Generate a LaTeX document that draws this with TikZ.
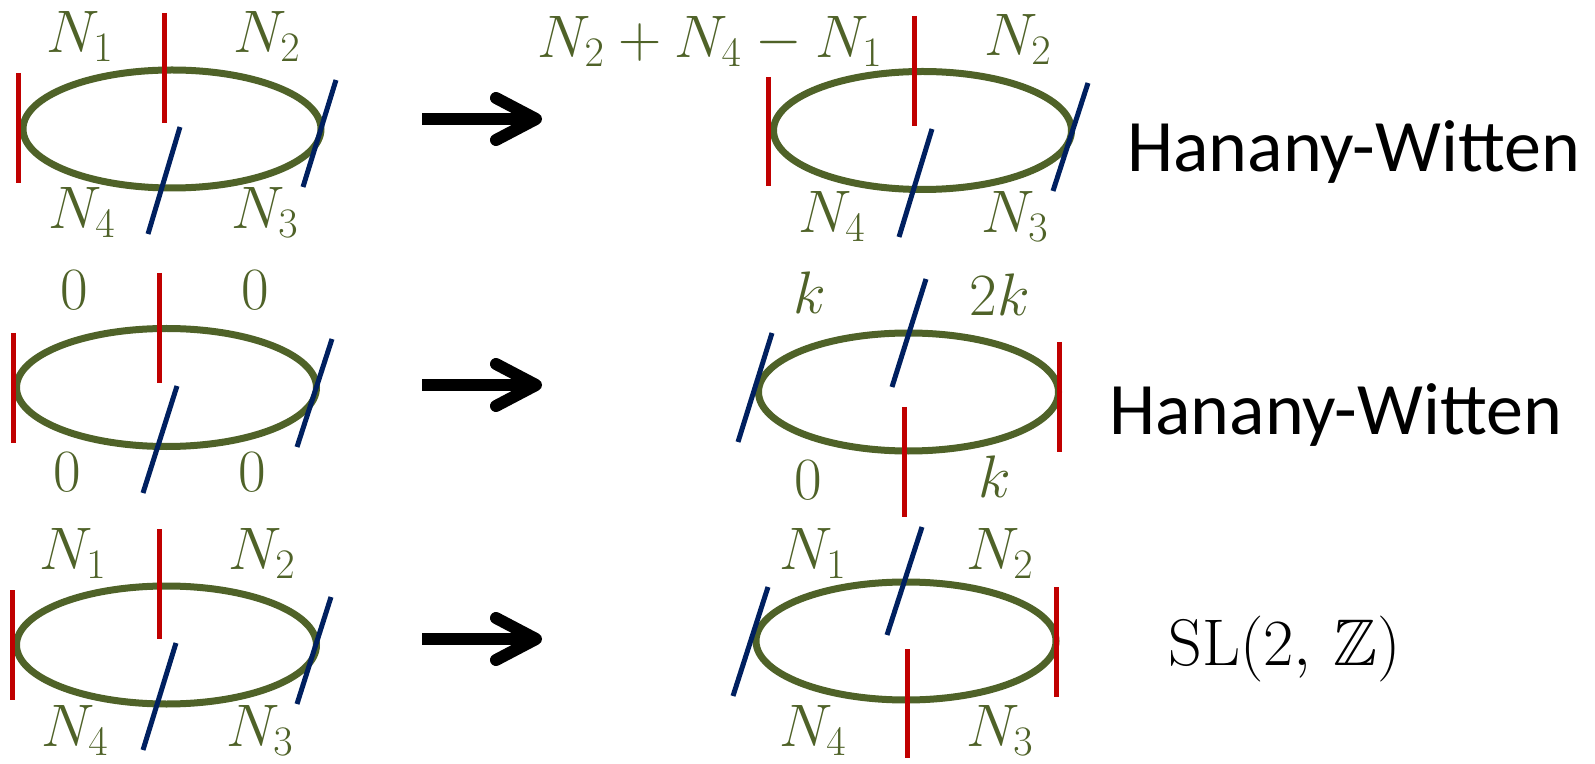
\RequirePackage{fix-cm}
\documentclass[tikz,border=0pt]{standalone}
\usepackage{amsmath,amssymb}
\usepackage{fontspec}
\newfontfamily\hwfont{Carlito}
\usetikzlibrary{arrows.meta,positioning}
\definecolor{RingGreen}{HTML}{4F6228}
\definecolor{BraneRed}{HTML}{C00000}
\definecolor{BraneBlue}{HTML}{002060}

\begin{document}
\begin{tikzpicture}[
  x=0.5pt, y=-0.5pt,
  ring/.style={draw=RingGreen, line width=3.5pt},
  redbrane/.style={draw=BraneRed, line width=2.5pt},
  bluebrane/.style={draw=BraneBlue, line width=2.5pt},
  lbl/.style={text=RingGreen, inner sep=0pt, font=\fontsize{30}{36}\selectfont},
  move/.style={line width=6pt, -{Straight Barb[length=20pt, width=21pt, round]}},
  rulename/.style={inner sep=0pt, anchor=base west, font=\hwfont\fontsize{37}{44}\selectfont},
  rulemath/.style={inner sep=0pt, anchor=base west, font=\fontsize{33}{39}\selectfont}
]
\useasboundingbox (0,0) rectangle (1595,764);

% row 1, left
\begin{scope}[shift={(172,129)}]
  \draw[ring] (0,0) ellipse [x radius=149, y radius=59];
  \draw[redbrane] (-154,-56) -- (-154,54);
  \draw[redbrane] (-8,-116) -- (-8,-6);
  \draw[bluebrane] (8,-2) -- (-24,105);
  \draw[bluebrane] (164,-49) -- (131,58);
  \node[lbl] (aN1) at (-92,-92) {$N_1$};
  \node[lbl] (aN2) at (95,-92) {$N_2$};
  \node[lbl] (aN4) at (-90,84) {$N_4$};
  \node[lbl] (aN3) at (93,84) {$N_3$};
\end{scope}

% row 1, right
\begin{scope}[shift={(922.5,130.5)}]
  \draw[ring] (0,0) ellipse [x radius=149, y radius=59];
  \draw[redbrane] (-154.5,-53.5) -- (-154.5,55.5);
  \draw[redbrane] (-8.5,-114.5) -- (-8.5,-4.5);
  \draw[bluebrane] (9.5,-1.5) -- (-23.5,106.5);
  \draw[bluebrane] (165.5,-47.5) -- (130.5,60.5);
  \node[lbl, anchor=east] (bN1) at (-39.5,-89) {$N_2+N_4-N_1$};
  \node[lbl] (bN2) at (95.5,-90.5) {$N_2$};
  \node[lbl] (bN4) at (-90.5,86.5) {$N_4$};
  \node[lbl] (bN3) at (92.5,86.5) {$N_3$};
\end{scope}

% row 2, left
\begin{scope}[shift={(166.5,387.5)}]
  \draw[ring] (0,0) ellipse [x radius=150, y radius=59];
  \draw[redbrane] (-153.5,-54.5) -- (-153.5,55.5);
  \draw[redbrane] (-7.5,-114.5) -- (-7.5,-4.5);
  \draw[bluebrane] (10.5,-1.5) -- (-23.5,105.5);
  \draw[bluebrane] (165.5,-48.5) -- (130.5,59.5);
  \node[lbl] (cN1) at (-92.5,-97.5) {$0$};
  \node[lbl] (cN2) at (88.5,-97.5) {$0$};
  \node[lbl] (cN4) at (-99.5,84.5) {$0$};
  \node[lbl] (cN3) at (85.5,84.5) {$0$};
\end{scope}

% row 2, right
\begin{scope}[shift={(908.5,392)}]
  \draw[ring] (0,0) ellipse [x radius=150, y radius=59];
  \draw[bluebrane] (-136.5,-59) -- (-170.5,50);
  \draw[bluebrane] (17.5,-113) -- (-16.5,-5);
  \draw[redbrane] (-4.5,15) -- (-4.5,125);
  \draw[redbrane] (150.5,-50) -- (150.5,60);
  \node[lbl] (dN1) at (-98.5,-99) {$k$};
  \node[lbl] (dN2) at (91.5,-97) {$2k$};
  \node[lbl] (dN4) at (-100.5,88) {$0$};
  \node[lbl] (dN3) at (86.5,85) {$k$};
\end{scope}

% row 3, left
\begin{scope}[shift={(166.5,645)}]
  \draw[ring] (0,0) ellipse [x radius=150, y radius=59];
  \draw[redbrane] (-154.5,-55) -- (-154.5,55);
  \draw[redbrane] (-7.5,-116) -- (-7.5,-6);
  \draw[bluebrane] (9.5,-2) -- (-23.5,105);
  \draw[bluebrane] (164.5,-48) -- (130.5,59);
  \node[lbl] (eN1) at (-93.5,-92) {$N_1$};
  \node[lbl] (eN2) at (95.5,-92) {$N_2$};
  \node[lbl] (eN4) at (-91.5,85) {$N_4$};
  \node[lbl] (eN3) at (93.5,85) {$N_3$};
\end{scope}

% row 3, right
\begin{scope}[shift={(906,641)}]
  \draw[ring] (0,0) ellipse [x radius=150, y radius=59];
  \draw[bluebrane] (-138,-54) -- (-173,55);
  \draw[bluebrane] (16,-114) -- (-19,-6);
  \draw[redbrane] (1,8) -- (1,117);
  \draw[redbrane] (150,-54) -- (150,56);
  \node[lbl] (fN1) at (-93,-88) {$N_1$};
  \node[lbl] (fN2) at (94,-88) {$N_2$};
  \node[lbl] (fN4) at (-93,89) {$N_4$};
  \node[lbl] (fN3) at (94,89) {$N_3$};
\end{scope}

% moves
\coordinate (m1a) at (422,119);
\coordinate (m1b) at (542,119);
\coordinate (m2a) at (422,385);
\coordinate (m2b) at (542,385);
\coordinate (m3a) at (422,639);
\coordinate (m3b) at (542,639);
\draw[move] (m1a) -- (m1b);
\draw[move] (m2a) -- (m2b);
\draw[move] (m3a) -- (m3b);

\node[rulename] (hw1) at (1127,172) {Hanany-Witten};
\node[rulename] (hw2) at (1109,435) {Hanany-Witten};
\node[rulemath] (sl) at (1168,665) {$\mathrm{SL}(2,\,\mathbb{Z})$};

\end{tikzpicture}
\end{document}
